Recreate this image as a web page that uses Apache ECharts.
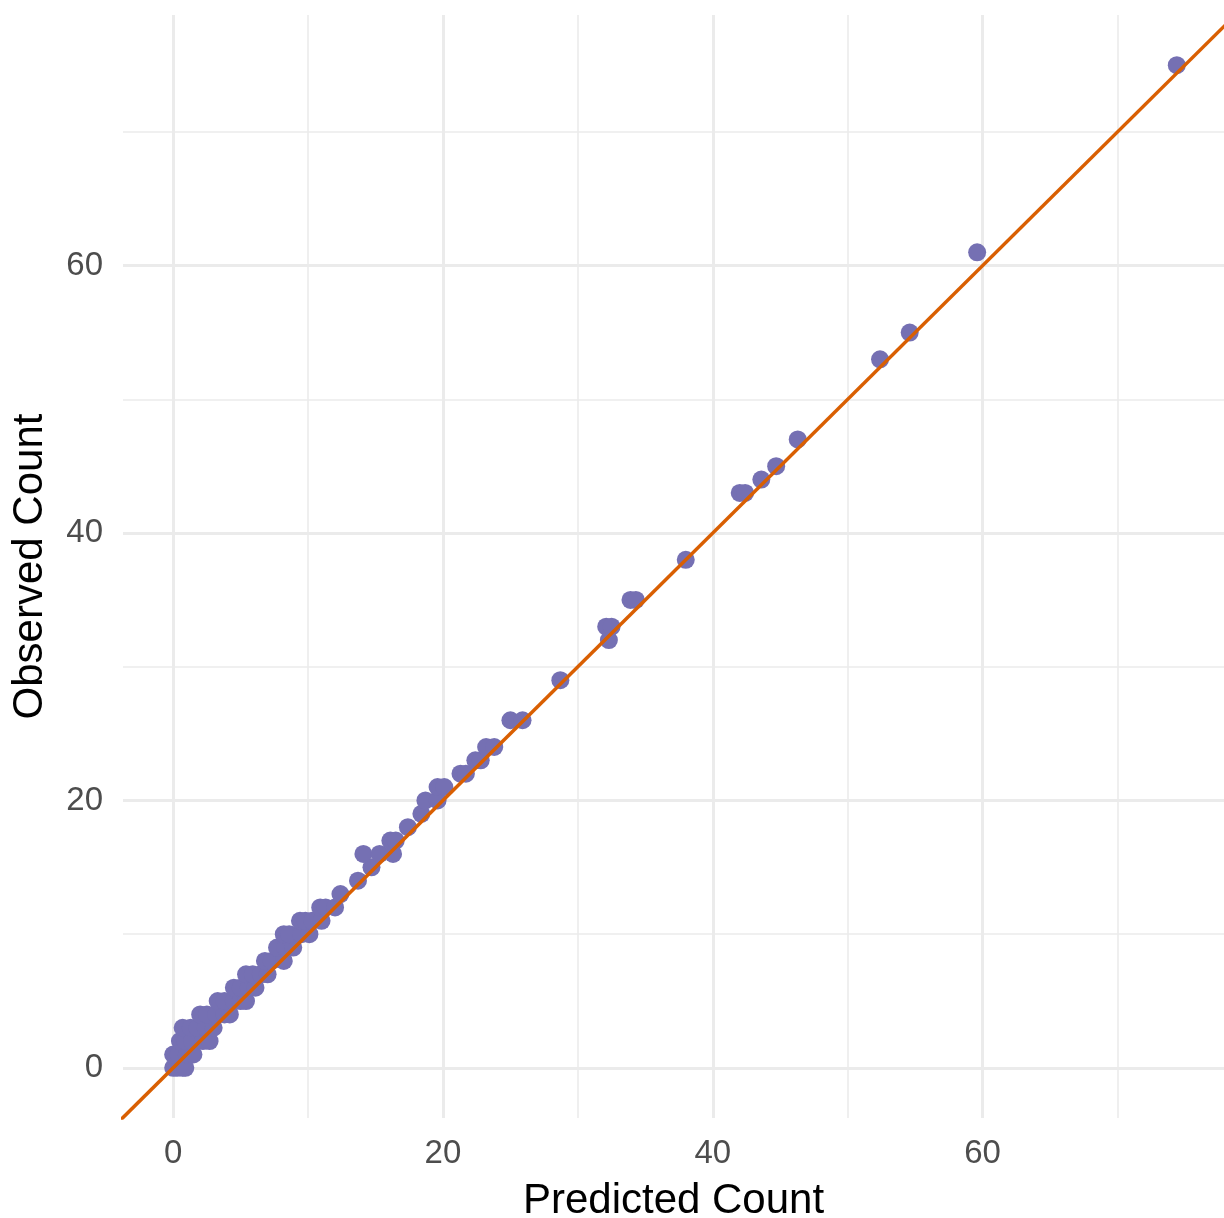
<!DOCTYPE html>
<html>
<head>
<meta charset="utf-8">
<script src="https://cdn.jsdelivr.net/npm/echarts@6/dist/echarts.min.js"></script>
<style>
  html, body { margin: 0; padding: 0; background: #fff; }
  #charts { width: 1224px; height: 1218px; }
</style>
</head>
<body>
<div id="charts"></div>
<script>
// predicted vs observed counts
const predicted = [
  0.0, 0.3, 0.7, 0.9,
  0.0, 0.4, 1.0, 1.5,
  0.5, 0.9, 1.4, 2.2, 2.7,
  0.7, 1.3, 1.8, 2.4, 3.0,
  2.0, 2.5, 3.2, 3.8, 4.2,
  3.3, 3.8, 4.5, 5.0, 5.4,
  4.5, 5.0, 5.6, 6.1,
  5.4, 5.9, 6.5, 7.0,
  6.8, 7.3, 8.2,
  7.7, 8.3, 8.9,
  8.2, 8.6, 9.5, 10.1,
  9.4, 9.8, 10.3, 11.0,
  10.9, 11.3, 12.0,
  12.4, 13.7, 14.7,
  14.1, 15.3, 16.3,
  16.1, 16.5, 17.4, 18.4,
  18.7, 19.6, 19.6, 20.1,
  21.3, 21.7, 22.4, 22.8, 23.2, 23.8,
  25.0, 25.9, 28.7,
  32.3, 32.1, 32.5, 33.9, 34.3, 38.0,
  42.0, 42.4, 43.6, 44.7, 46.3,
  52.4, 54.6, 59.6, 74.4
]
const observed = [
  0, 0, 0, 0,
  1, 1, 1, 1,
  2, 2, 2, 2, 2,
  3, 3, 3, 3, 3,
  4, 4, 4, 4, 4,
  5, 5, 5, 5, 5,
  6, 6, 6, 6,
  7, 7, 7, 7,
  8, 8, 8,
  9, 9, 9,
  10, 10, 10, 10,
  11, 11, 11, 11,
  12, 12, 12,
  13, 14, 15,
  16, 16, 16,
  17, 17, 18, 19,
  20, 20, 21, 21,
  22, 22, 23, 23, 24, 24,
  26, 26, 29,
  32, 33, 33, 35, 35, 38,
  43, 43, 44, 45, 47,
  53, 55, 61, 75
]
const xRange = [-3.72, 77.9]
const yRange = [-3.75, 78.75]
const majorTicks = [0, 20, 40, 60]
const minorTicks = [10, 30, 50, 70]
const identityLine = [-10, 90]

const chart = echarts.init(document.getElementById('charts'))

const points = predicted.map((p, i) => [p, observed[i]])
const gridLine = (axis, v, w) => ({ [axis]: v, lineStyle: { width: w } })
const gridLines = [
  ...minorTicks.map(v => gridLine('xAxis', v, 1.6)),
  ...minorTicks.map(v => gridLine('yAxis', v, 1.6)),
  ...majorTicks.map(v => gridLine('xAxis', v, 3)),
  ...majorTicks.map(v => gridLine('yAxis', v, 3))
]

const font = 'Liberation Sans, Arial, Helvetica, sans-serif'

const option = {
  animation: false,
  backgroundColor: '#ffffff',
  grid: {
    left: 123, right: 0, top: 15, bottom: 100,
    containLabel: false,
    outerBoundsMode: 'none'
  },
  xAxis: {
    type: 'value',
    min: xRange[0],
    max: xRange[1],
    axisLine: { show: false },
    axisTick: { show: false },
    splitLine: { show: false },
    axisLabel: {
      customValues: majorTicks,
      color: '#4d4d4d',
      fontSize: 33,
      fontFamily: font,
      margin: 19
    },
    name: 'Predicted Count',
    nameLocation: 'middle',
    nameGap: 62,
    nameTextStyle: { color: '#000', fontSize: 42, fontFamily: font }
  },
  yAxis: {
    type: 'value',
    min: yRange[0],
    max: yRange[1],
    axisLine: { show: false },
    axisTick: { show: false },
    splitLine: { show: false },
    axisLabel: {
      customValues: majorTicks,
      color: '#4d4d4d',
      fontSize: 33,
      fontFamily: font,
      margin: 20
    },
    name: 'Observed Count',
    nameLocation: 'middle',
    nameGap: 72,
    nameTextStyle: { color: '#000', fontSize: 42, fontFamily: font }
  },
  series: [
    {
      type: 'scatter',
      data: [],
      silent: true,
      z: 0,
      markLine: {
        silent: true,
        z: 0,
        symbol: 'none',
        label: { show: false },
        emphasis: { disabled: true },
        lineStyle: { color: '#ebebeb', type: 'solid' },
        data: gridLines
      }
    },
    {
      type: 'scatter',
      data: points,
      symbolSize: 18,
      itemStyle: { color: '#7570b3', opacity: 1 },
      z: 3
    },
    {
      type: 'line',
      data: identityLine.map(v => [v, v]),
      showSymbol: false,
      clip: true,
      lineStyle: { color: '#d95f02', width: 3.5 },
      z: 10
    }
  ]
}

chart.setOption(option)
</script>
</body>
</html>
